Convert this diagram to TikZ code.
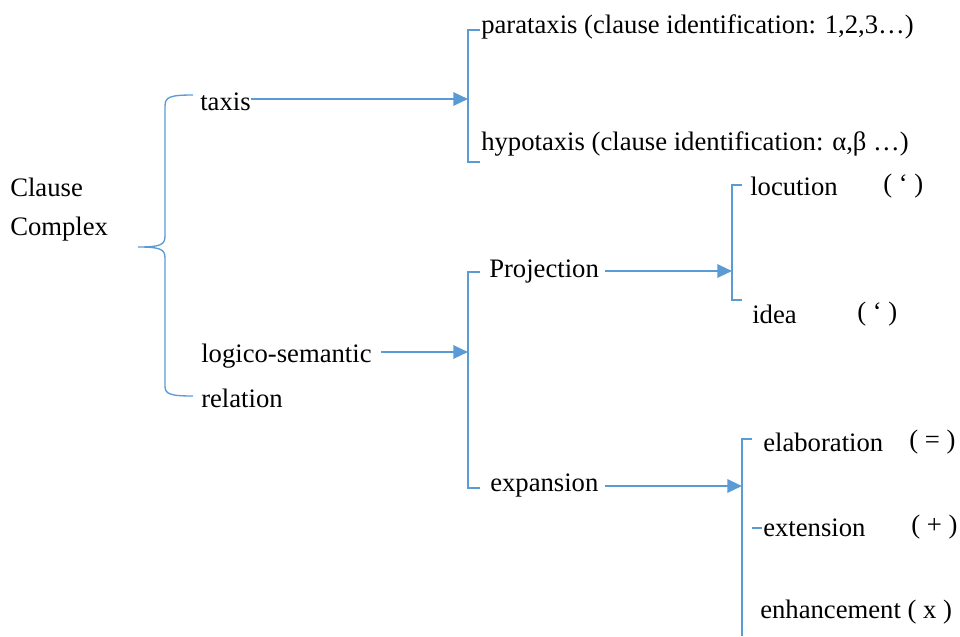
\documentclass[tikz,border=0pt]{standalone}
\usepackage{fontspec}
\setmainfont{Liberation Serif}
\usetikzlibrary{arrows.meta}
\definecolor{lineblue}{HTML}{5B9BD5}
\begin{document}
\begin{tikzpicture}[x=0.75pt,y=-0.75pt,
  lbl/.style={anchor=west,inner sep=0pt,yshift=-1.1pt,font=\fontsize{20}{23}\selectfont},
  brk/.style={draw=lineblue,line width=1pt},
  arr/.style={draw=lineblue,line width=1.6pt,-{Triangle[length=11pt,width=10pt]},shorten >=0pt}]
\useasboundingbox (0,0) rectangle (960,636);
% texts
\node[lbl] (cl1) at (10,186) {Clause};
\node[lbl] (cl2) at (10,228) {Complex};
\node[lbl] (taxis) at (200,100) {taxis};
\node[lbl] (logico) at (201,355) {logico-semantic};
\node[lbl] (rel) at (201,397) {relation};
\node[lbl] (para) at (481,25) {parataxis\ (clause identification: 1,2,3…)};
\node[lbl] (hypo) at (481,143) {hypotaxis (clause identification: α,β …)};
\node[lbl] (proj) at (489,270) {Projection};
\node[lbl] (exp) at (490,484) {expansion};
\node[lbl] (loc) at (750,185) {locution};
\node[lbl] (locs) at (883,185) {( ‘ )};
\node[lbl] (idea) at (752,313) {idea};
\node[lbl] (ideas) at (857,313) {( ‘ )};
\node[lbl] (elab) at (763,441) {elaboration};
\node[lbl] (elabs) at (909,441) {( = )};
\node[lbl] (ext) at (763,526) {extension};
\node[lbl] (exts) at (911,526) {( + )};
\node[lbl] (enh) at (760,611) {enhancement ( x )};
% bracket coordinates
\coordinate (b2) at (468,99);
\coordinate (b3) at (468,352);
\coordinate (b4) at (732,271);
\coordinate (b5) at (742,486);
% big brace
\draw[brk] (193,95) .. controls (170,95) and (165,97) .. (165,106) -- (165,236)
  .. controls (165,245) and (160,247) .. (138,247)
  .. controls (160,247) and (165,249) .. (165,258) -- (165,386)
  .. controls (165,394) and (170,396) .. (193,396);
% square brackets
\draw[brk] (480,30) -- (468,30) -- (468,162) -- (480,162);
\draw[brk] (480,272) -- (468,272) -- (468,488) -- (480,488);
\draw[brk] (742,185) -- (732,185) -- (732,300) -- (742,300);
\draw[brk] (752,439) -- (742,439) -- (742,636);
\draw[brk] (752,528) -- (762,528);
% arrows
\draw[arr] (taxis.east |- b2) -- (b2);
\draw[arr] (381,352) -- (b3);
\draw[arr] (605,271) -- (b4);
\draw[arr] (605,486) -- (b5);
\end{tikzpicture}
\end{document}
